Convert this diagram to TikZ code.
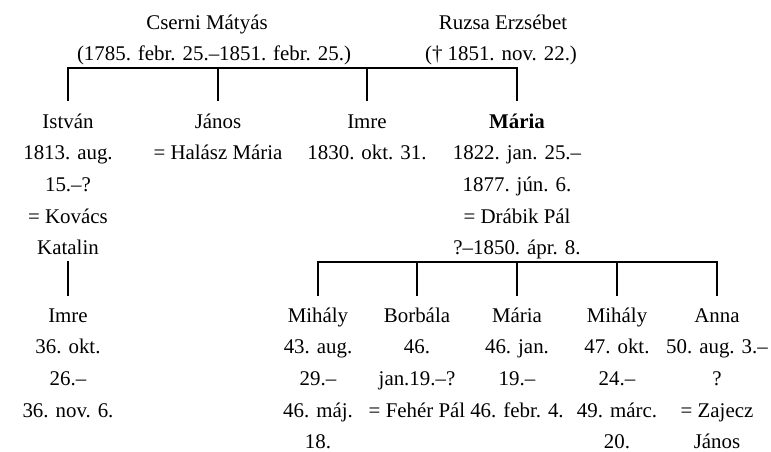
\documentclass[tikz,border=0pt]{standalone}
\usepackage{fontspec}
\setmainfont{Liberation Serif}
\newcommand{\tstr}{\rule{0pt}{18pt}}
\begin{document}
\begin{tikzpicture}[x=1pt,y=-1pt,
  every node/.style={inner sep=0pt,outer sep=0pt,font=\fontsize{20.9}{31.7}\selectfont},
  person/.style={anchor=north,align=center},
  single/.style={anchor=base},
  fork/.style={line width=1.6pt,line join=miter,line cap=rect}]
\useasboundingbox (0,0) rectangle (771,452);
% parents
\node[single] (cs1) at (207,29.5) {Cserni Mátyás};
\node[single] (cs2) at (214,61) {(1785. febr. 25.–1851. febr. 25.)};
\node[single] (ru1) at (503,29.5) {Ruzsa Erzsébet};
\node[single] (ru2) at (501,61) {(† 1851. nov. 22.)};
% children
\node[person] (istvan) at (68,110) {\tstr István\\1813. aug.\\15.–?\\= Kovács\\Katalin};
\node[person] (janos) at (218,110) {\tstr János\\= Halász Mária};
\node[person] (imre) at (367,110) {\tstr Imre\\1830. okt. 31.};
\node[person] (maria) at (517,110) {\tstr\textbf{Mária}\\1822. jan. 25.–\\1877. jún. 6.\\= Drábik Pál\\?–1850. ápr. 8.};
% grandchildren
\node[person] (imre2) at (68,304) {\tstr Imre\\36. okt.\\26.–\\36. nov. 6.};
\node[person] (mihaly) at (318,304) {\tstr Mihály\\43. aug.\\29.–\\46. máj.\\18.};
\node[person] (borbala) at (417,304) {\tstr Borbála\\46.\\jan.19.–?\\= Fehér Pál};
\node[person] (maria2) at (517,304) {\tstr Mária\\46. jan.\\19.–\\46. febr. 4.};
\node[person] (mihaly2) at (617,304) {\tstr Mihály\\47. okt.\\24.–\\49. márc.\\20.};
\node[person] (anna) at (717,304) {\tstr Anna\\50. aug. 3.–\\?\\= Zajecz\\János};
% fork coordinates
\coordinate (tb) at (0,68);
\coordinate (vb) at (0,100);
\coordinate (sb) at (0,262);
\coordinate (wb) at (0,295);
% first generation
\draw[fork] (istvan |- vb) -- (istvan |- tb) -- (maria |- tb) -- (maria |- vb);
\draw[fork] (janos |- tb) -- (janos |- vb);
\draw[fork] (imre |- tb) -- (imre |- vb);
% István's child
\draw[fork] (istvan |- sb) -- (imre2 |- wb);
% Mária's children
\draw[fork] (mihaly |- wb) -- (mihaly |- sb) -- (anna |- sb) -- (anna |- wb);
\draw[fork] (borbala |- sb) -- (borbala |- wb);
\draw[fork] (maria2 |- sb) -- (maria2 |- wb);
\draw[fork] (mihaly2 |- sb) -- (mihaly2 |- wb);
\end{tikzpicture}
\end{document}
